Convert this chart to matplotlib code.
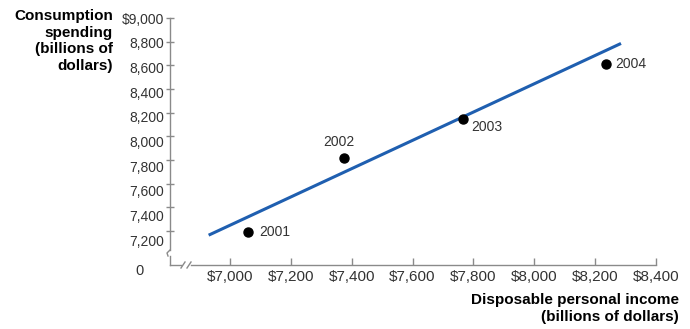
import numpy as np
import matplotlib.pyplot as plt
from matplotlib.transforms import ScaledTranslation

plt.rcParams['font.family'] = ['Liberation Sans', 'DejaVu Sans']

# data (billions of dollars)
years = ['2001', '2002', '2003', '2004']
income = [7060, 7375, 7765, 8235]
consumption = [7195, 7820, 8150, 8615]
line_x = [6930, 8285]
line_y = [7165, 8785]
xticks = [7000, 7200, 7400, 7600, 7800, 8000, 8200, 8400]
yticks = [7200, 7400, 7600, 7800, 8000, 8200, 8400, 8600, 8800, 9000]

gray = '#8a8a8a'
txt = '#333333'

fig = plt.figure(figsize=(6.9, 3.29), dpi=100)
W, H = 690, 329
x0, x1, y0, y1 = 170, 656, 265, 18
ax = fig.add_axes([x0 / W, 1 - y0 / H, (x1 - x0) / W, (y0 - y1) / H])
xlim = (6803, 8400)
ylim = (6913, 9000)
ax.set_xlim(*xlim)
ax.set_ylim(*ylim)

ax.plot(line_x, line_y, color='#1f5fb0', lw=2.2, solid_capstyle='butt', zorder=2)
ax.plot(income, consumption, 'o', color='black', ms=6.5, zorder=3)

offsets = {'2001': (8, 0, 'left', 'center'),
           '2002': (-4, 11, 'center', 'center'),
           '2003': (6, -6, 'left', 'center'),
           '2004': (7, 0, 'left', 'center')}
for yr, xv, yv in zip(years, income, consumption):
    dx, dy, ha, va = offsets[yr]
    ax.annotate(yr, (xv, yv), xytext=(dx, dy), textcoords='offset points',
                ha=ha, va=va, fontsize=10, color=txt)

for s in ['top', 'right']:
    ax.spines[s].set_visible(False)
for s in ['left', 'bottom']:
    ax.spines[s].set_color(gray)
    ax.spines[s].set_linewidth(1.0)

# axis breaks
def px2x(p):
    return xlim[0] + (p - x0) / (x1 - x0) * (xlim[1] - xlim[0])

def px2y(p):
    return ylim[0] + (y0 - p) / (y0 - y1) * (ylim[1] - ylim[0])

ax.spines['bottom'].set_bounds(px2x(191), xlim[1])
ax.spines['left'].set_bounds(px2y(250), ylim[1])
kw = dict(color=gray, lw=1.0, clip_on=False, transform=ax.transData)
ax.plot([xlim[0], px2x(181)], [ylim[0], ylim[0]], **kw)
for p in (183, 189):
    ax.plot([px2x(p - 2), px2x(p + 2)], [px2y(268), px2y(262)], **kw)
ax.plot([px2x(170), px2x(167), px2x(168)], [px2y(250), px2y(253), px2y(256)], **kw)
ax.plot([xlim[0], xlim[0]], [px2y(256), ylim[0]], **kw)

ax.set_xticks(xticks)
ax.set_xticklabels(['$' + format(v, ',') for v in xticks])
ax.set_yticks(yticks)
ax.set_yticklabels([('$' if v == 9000 else '') + format(v, ',') for v in yticks])
ax.tick_params(axis='x', direction='in', length=5, width=1, color=gray,
               labelsize=11, labelcolor=txt, pad=3.5)
ax.tick_params(axis='y', direction='inout', length=6, width=1, color=gray,
               labelsize=10, labelcolor=txt, pad=1)

# labels in the original sit a little lower the further down the axis
for v, lab in zip(yticks, ax.get_yticklabels()):
    dy = (9000 - v) / 1800 * 6.5 / 72
    lab.set_transform(lab.get_transform() + ScaledTranslation(0, -dy, fig.dpi_scale_trans))

fig.text(140 / W, 1 - 271 / H, '0', fontsize=10.5, color=txt, ha='center', va='center')
fig.text(113 / W, 1 - 9 / H, 'Consumption\nspending\n(billions of\ndollars)',
         fontsize=11, fontweight='bold', ha='right', va='top', linespacing=1.25)
fig.text(679 / W, 1 - 293 / H, 'Disposable personal income\n(billions of dollars)',
         fontsize=11, fontweight='bold', ha='right', va='top', linespacing=1.25)

fig.savefig('out.png', dpi=100)
